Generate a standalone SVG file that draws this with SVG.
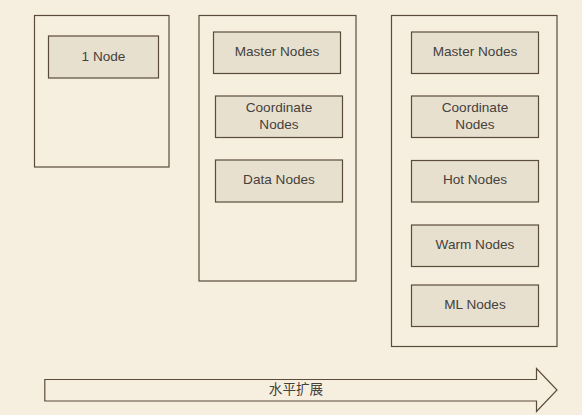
<svg xmlns="http://www.w3.org/2000/svg" width="582" height="415" viewBox="0 0 582 415">
<style>
.bg{fill:#f6efdf}
.outer{fill:#f6efdf;stroke:#5b4b3b;stroke-width:1.2}
.node{fill:#e7e0cf;stroke:#5b4b3b;stroke-width:1.2}
.t{font-family:"Liberation Sans","Noto Sans CJK SC",sans-serif;font-size:13.6px;fill:#45413c;text-anchor:middle;dominant-baseline:central}
</style>
<rect class="bg" x="0" y="0" width="582" height="415"/>
<g id="cluster1"><rect class="outer" x="34.5" y="15.5" width="134.5" height="151.5"/></g>
<g id="cluster2"><rect class="outer" x="199" y="15.5" width="157" height="265.5"/></g>
<g id="cluster3"><rect class="outer" x="391.5" y="15.5" width="165.5" height="331"/></g>
<g id="n1node"><rect class="node" x="48.5" y="36" width="110" height="42"/><text class="t" x="103.5" y="56.5">1 Node</text></g>
<g id="c2master"><rect class="node" x="213.5" y="32" width="127" height="41.5"/><text class="t" x="277" y="51.5">Master Nodes</text></g>
<g id="c2coord"><rect class="node" x="215.5" y="96" width="127" height="41.5"/><text class="t" x="279" y="107.5">Coordinate</text><text class="t" x="279" y="124.3">Nodes</text></g>
<g id="c2data"><rect class="node" x="215.5" y="160" width="127" height="42"/><text class="t" x="279" y="179.5">Data Nodes</text></g>
<g id="c3master"><rect class="node" x="411.5" y="32" width="127" height="41.5"/><text class="t" x="475" y="51.5">Master Nodes</text></g>
<g id="c3coord"><rect class="node" x="411.5" y="96" width="127" height="41.5"/><text class="t" x="475" y="107.5">Coordinate</text><text class="t" x="475" y="124.3">Nodes</text></g>
<g id="c3hot"><rect class="node" x="411.5" y="160.5" width="127" height="41.5"/><text class="t" x="475" y="179.5">Hot Nodes</text></g>
<g id="c3warm"><rect class="node" x="411.5" y="225" width="127" height="41.5"/><text class="t" x="475" y="244.3">Warm Nodes</text></g>
<g id="c3ml"><rect class="node" x="411.5" y="285" width="127" height="41.5"/><text class="t" x="475" y="304">ML Nodes</text></g>
<g id="connectors"><g id="arrow"><path class="outer" d="M44.8,379.5 H536.5 V368.5 L557,390 L536.5,411.5 V401 H44.8 Z"/><text class="t" x="296" y="389.5">水平扩展</text></g></g>
</svg>
